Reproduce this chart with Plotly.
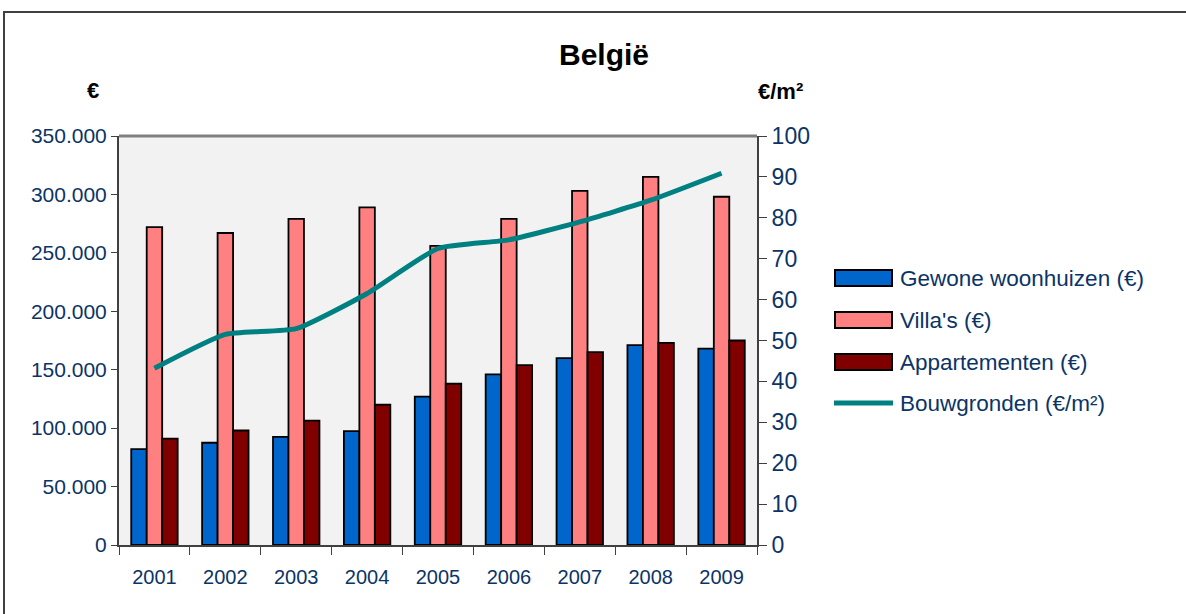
import plotly.graph_objects as go

years = ["2001", "2002", "2003", "2004", "2005", "2006", "2007", "2008", "2009"]
gewone = [82000, 87500, 92500, 97500, 127000, 146000, 160000, 171000, 168000]
villas = [272000, 267000, 279000, 289000, 256000, 279000, 303000, 315000, 298000]
appartementen = [91000, 98000, 106500, 120000, 138000, 154000, 165000, 173000, 175000]
bouwgronden = [43.2, 51.5, 52.9, 61.5, 72.5, 74.6, 79.0, 84.3, 90.9]

names = ["Gewone woonhuizen (€)", "Villa's (€)", "Appartementen (€)", "Bouwgronden (€/m²)"]
colors = ["#0066CC", "#FF8080", "#800000", "#008080"]

W, H = 1186, 614
L, R, T, B = 119, 757, 136, 545
navy = "#0B3466"
font = "Liberation Sans, Arial, sans-serif"

fig = go.Figure()
outline = dict(color="black", width=1.8)
for vals, nm, col in zip([gewone, villas, appartementen], names[:3], colors[:3]):
    fig.add_trace(go.Bar(x=years, y=vals, name=nm, marker=dict(color=col, line=outline)))
fig.add_trace(go.Scatter(x=years, y=bouwgronden, name=names[3], yaxis="y2", mode="lines",
                         line=dict(color=colors[3], width=5, shape="spline", smoothing=0.5)))


def px_x(p):
    return (p - L) / (R - L)


def px_y(p):
    return (B - p) / (B - T)


shapes = [
    dict(type="line", xref="paper", yref="paper", x0=0, x1=1, y0=1, y1=1,
         line=dict(color="#808080", width=3)),
    dict(type="rect", xref="paper", yref="paper", x0=px_x(4), x1=px_x(1200),
         y0=px_y(630), y1=px_y(12), line=dict(color="#404040", width=2)),
]
annotations = [
    dict(text="<b>België</b>", xref="paper", yref="paper", x=px_x(604), y=px_y(55),
         xanchor="center", yanchor="middle",
         showarrow=False, font=dict(size=30, color="black", family=font)),
    dict(text="<b>€</b>", xref="paper", yref="paper", x=px_x(93), y=px_y(90),
         xanchor="center", yanchor="middle",
         showarrow=False, font=dict(size=22, color="black", family=font)),
    dict(text="<b>€/m²</b>", xref="paper", yref="paper", x=px_x(780), y=px_y(91),
         xanchor="center", yanchor="middle",
         showarrow=False, font=dict(size=22, color="black", family=font)),
]

# legend drawn by hand (swatches + labels)
leg_y = [278, 320, 362, 403]
for i, (nm, col) in enumerate(zip(names, colors)):
    cy = leg_y[i]
    if i < 3:
        shapes.append(dict(type="rect", xref="paper", yref="paper",
                           x0=px_x(835), x1=px_x(892), y0=px_y(cy + 8), y1=px_y(cy - 8),
                           fillcolor=col, line=dict(color="black", width=2)))
    else:
        shapes.append(dict(type="line", xref="paper", yref="paper",
                           x0=px_x(834), x1=px_x(893), y0=px_y(cy), y1=px_y(cy),
                           line=dict(color=col, width=5)))
    annotations.append(dict(text=nm, xref="paper", yref="paper", x=px_x(898), y=px_y(cy),
                            xanchor="left", yanchor="middle", showarrow=False,
                            font=dict(size=22.5, color=navy, family=font)))

fig.update_layout(
    width=W, height=H,
    margin=dict(l=L, r=W - R, t=T, b=H - B, pad=0),
    paper_bgcolor="white",
    plot_bgcolor="#F2F2F2",
    separators=",.",
    barmode="group",
    bargap=0.345,
    bargroupgap=0,
    font=dict(family=font, color=navy),
    showlegend=False,
    xaxis=dict(type="category", tickson="boundaries", ticks="outside", ticklen=8,
               tickcolor="#404040", showline=True, linecolor="#404040", linewidth=2,
               tickfont=dict(size=20, color=navy), ticklabelstandoff=13, showgrid=False),
    yaxis=dict(range=[0, 350000], tickvals=[0, 50000, 100000, 150000, 200000, 250000, 300000, 350000],
               tickformat=",d", ticks="outside", ticklen=6, tickcolor="#404040",
               showline=True, linecolor="#404040", linewidth=2, showgrid=False, zeroline=False,
               tickfont=dict(size=21, color=navy)),
    yaxis2=dict(range=[0, 100], dtick=10, overlaying="y", side="right", ticks="outside",
                ticklen=8, tickcolor="#404040", showline=True, linecolor="#404040", linewidth=2,
                showgrid=False, zeroline=False, tickfont=dict(size=23, color=navy)),
    shapes=shapes,
    annotations=annotations,
)

fig.write_html("out.html", config={"displayModeBar": False},
               post_script="document.body.style.margin='0px';")
